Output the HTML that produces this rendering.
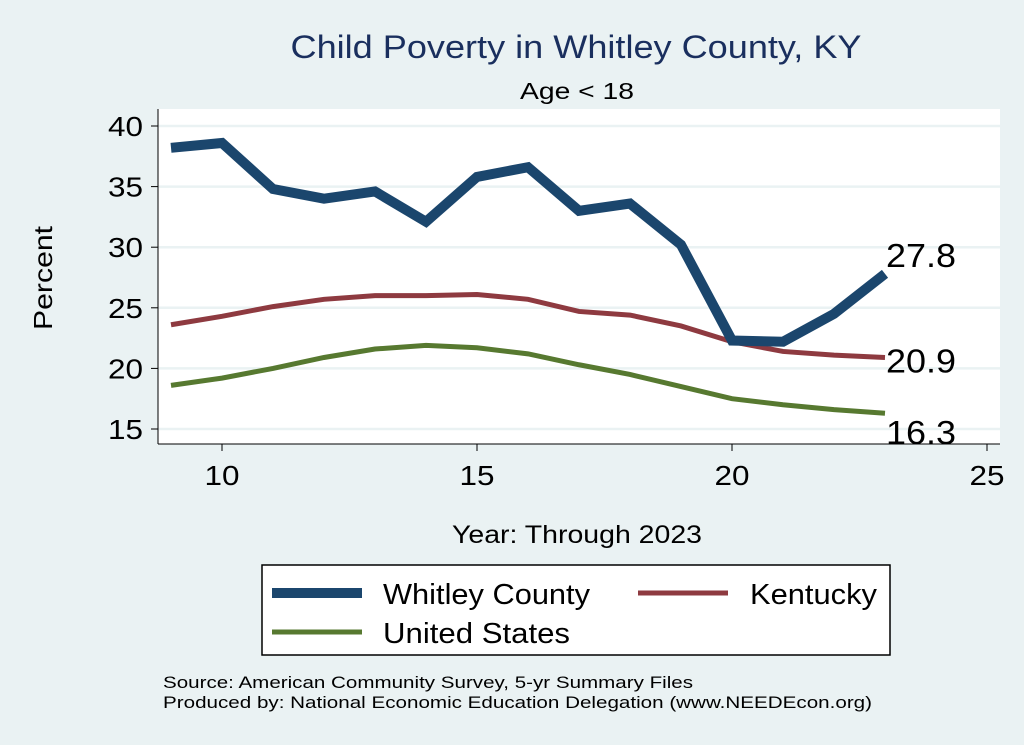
<!DOCTYPE html>
<html><head><meta charset="utf-8"><style>
body{margin:0;background:#eaf2f3;}
svg{display:block;font-family:"Liberation Sans",sans-serif;}
</style></head><body>
<svg id="c" width="1024" height="745">
<rect x="0" y="0" width="1024" height="745" fill="#eaf2f3"/>
<rect x="158" y="109" width="842" height="335" fill="#ffffff"/>
<text x="576" y="58" font-size="32" fill="#1a2f5e" text-anchor="middle" textLength="571" lengthAdjust="spacingAndGlyphs">Child Poverty in Whitley County, KY</text>
<text x="577" y="99" font-size="23" fill="#000" text-anchor="middle" textLength="114" lengthAdjust="spacingAndGlyphs">Age &lt; 18</text>
<text transform="translate(52,278) rotate(-90)" font-size="26" text-anchor="middle" textLength="104" lengthAdjust="spacingAndGlyphs">Percent</text>
<text x="577" y="543" font-size="25" text-anchor="middle" textLength="250" lengthAdjust="spacingAndGlyphs">Year: Through 2023</text>
<g id="grid"></g><g id="axes"></g><g id="lines"></g>
<g>
<rect x="262" y="565" width="628" height="90" fill="#fff" stroke="#000" stroke-width="1.5"/>
<line x1="272" y1="593" x2="362" y2="593" stroke="#1b466d" stroke-width="10"/>
<text x="383" y="604" font-size="29" textLength="207" lengthAdjust="spacingAndGlyphs">Whitley County</text>
<line x1="638" y1="593" x2="728" y2="593" stroke="#8e3a40" stroke-width="5"/>
<text x="750" y="604" font-size="29" textLength="127" lengthAdjust="spacingAndGlyphs">Kentucky</text>
<line x1="272" y1="632" x2="362" y2="632" stroke="#577930" stroke-width="5"/>
<text x="383" y="643" font-size="29" textLength="187" lengthAdjust="spacingAndGlyphs">United States</text>
</g>
<text x="163" y="688" font-size="17" textLength="530" lengthAdjust="spacingAndGlyphs">Source: American Community Survey, 5-yr Summary Files</text>
<text x="163" y="708" font-size="17" textLength="709" lengthAdjust="spacingAndGlyphs">Produced by: National Economic Education Delegation (www.NEEDEcon.org)</text>
</svg>
<script>
const years=[9,10,11,12,13,14,15,16,17,18,19,20,21,22,23];
const whitley=[38.2,38.6,34.8,34.0,34.6,32.1,35.8,36.6,33.0,33.6,30.2,22.3,22.2,24.5,27.8];
const kentucky=[23.6,24.3,25.1,25.7,26.0,26.0,26.1,25.7,24.7,24.4,23.5,22.2,21.4,21.1,20.9];
const us=[18.6,19.2,20.0,20.9,21.6,21.9,21.7,21.2,20.3,19.5,18.5,17.5,17.0,16.6,16.3];
const yTicks=[15,20,25,30,35,40];
const xTicks=[10,15,20,25];
const NS='http://www.w3.org/2000/svg';
function X(v){return 222+(v-10)*51;}
function Y(v){return 429-(v-15)*12.12;}
function mk(tag,attrs,parent,text){const e=document.createElementNS(NS,tag);for(const k in attrs)e.setAttribute(k,attrs[k]);if(text!==undefined)e.textContent=text;document.getElementById(parent).appendChild(e);return e;}
yTicks.forEach(t=>{
 const g=mk('line',{x1:158,x2:1000,y1:Y(t),y2:Y(t),stroke:'#eaf2f3','stroke-width':2.5},'grid');
 
 
 const k=mk('line',{x1:151,x2:158,y1:Y(t),y2:Y(t),stroke:'#000','stroke-width':1},'axes');
 
 
 const l=mk('text',{x:143,y:Y(t)+10,'font-size':28,'text-anchor':'end',textLength:35,lengthAdjust:'spacingAndGlyphs'},'axes',t);
 
 
});
xTicks.forEach(t=>{
 const k=mk('line',{x1:X(t),x2:X(t),y1:444,y2:451,stroke:'#000','stroke-width':1},'axes');
 
 
 const l=mk('text',{x:X(t),y:485,'font-size':28,'text-anchor':'middle',textLength:35,lengthAdjust:'spacingAndGlyphs'},'axes',t);
 
 
});
const ya=mk('line',{x1:158,x2:158,y1:109,y2:444,stroke:'#000','stroke-width':1},'axes');


const xa=mk('line',{x1:158,x2:1000,y1:444,y2:444,stroke:'#000','stroke-width':1},'axes');


function series(vals,color,w,name,dy){
 const d=vals.map((v,i)=>(i?'L':'M')+X(years[i])+','+Y(v)).join(' ');
 const p=mk('path',{d:d,fill:'none',stroke:color,'stroke-width':w,'stroke-linejoin':'miter'},'lines');
 
 
 const last=vals[vals.length-1];
 const l=mk('text',{x:X(years[years.length-1])+1,y:Y(last)+dy,'font-size':33,textLength:70,lengthAdjust:'spacingAndGlyphs'},'lines',last.toFixed(1));
 
 
}
series(us,'#577930',5,'us',31);
series(kentucky,'#8e3a40',5,'kentucky',15);
series(whitley,'#1b466d',10,'whitley',-7);
</script>
</body></html>
